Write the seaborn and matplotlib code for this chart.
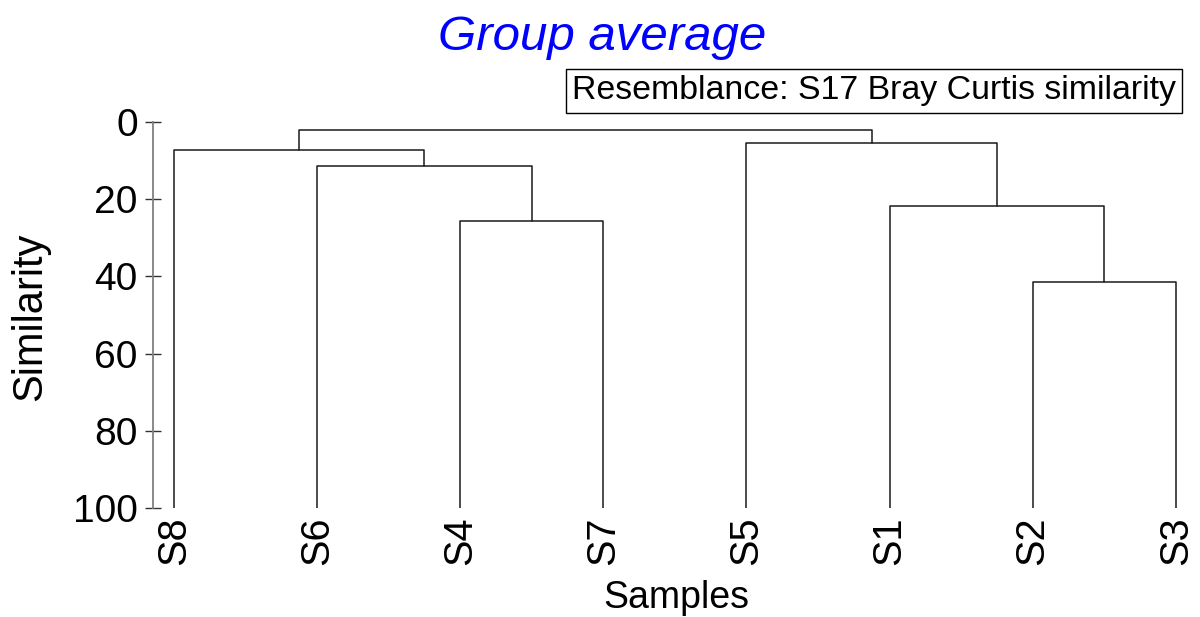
import numpy as np
import pandas as pd
import matplotlib
matplotlib.use("Agg")
import matplotlib.pyplot as plt
import seaborn as sns

# ---- data ----
leaf_labels = ["S8", "S6", "S4", "S7", "S5", "S1", "S2", "S3"]
leaf_level = 100.0
# linkage: clusters 0..7 are leaves, each merge creates cluster 8, 9, ...
merge_a = [2, 6, 1, 5, 0, 4, 12]
merge_b = [3, 7, 8, 9, 10, 11, 13]
merge_level = [25.7, 41.5, 11.4, 21.7, 7.4, 5.6, 2.15]
y_ticks = [0, 20, 40, 60, 80, 100]

title = "Group average"
note = "Resemblance: S17 Bray Curtis similarity"
x_label = "Samples"
y_label = "Similarity"

# ---- build dendrogram segments ----
pos = {i: float(i) for i in range(len(leaf_labels))}
lev = {i: leaf_level for i in range(len(leaf_labels))}
rows = []
for k, (a, b, h) in enumerate(zip(merge_a, merge_b, merge_level)):
    cid = len(leaf_labels) + k
    xs = [pos[a], pos[a], pos[b], pos[b]]
    ys = [lev[a], h, h, lev[b]]
    for j, (xx, yy) in enumerate(zip(xs, ys)):
        rows.append({"link": k, "order": j, "x": xx, "y": yy})
    pos[cid] = (pos[a] + pos[b]) / 2.0
    lev[cid] = h
seg = pd.DataFrame(rows)

sns.set_theme(style="white")
plt.rcParams["font.family"] = ["Liberation Sans", "DejaVu Sans"]

fig = plt.figure(figsize=(12, 6.17), dpi=100)
ax = fig.add_axes([153 / 1200, 1 - 508.3 / 617, (1190 - 153) / 1200, (508.3 - 120.5) / 617])

sns.lineplot(data=seg, x="x", y="y", units="link", estimator=None, sort=False,
             color="#1a1a1a", linewidth=1.1, ax=ax)

ax.set_xlim(-0.147, 7.1)
ax.set_ylim(100, -0.3)
ax.set_yticks(y_ticks)
ax.set_yticklabels([str(t) for t in y_ticks], fontsize=28, color="black")
ax.set_xticks(range(len(leaf_labels)))
ax.set_xticklabels(leaf_labels, rotation=90, fontsize=28.5, color="black")
ax.tick_params(axis="x", length=0, pad=6)
ax.tick_params(axis="y", direction="inout", length=12, width=1.0, color="#333333", pad=5, left=True)

for s in ["top", "right", "bottom"]:
    ax.spines[s].set_visible(False)
ax.spines["left"].set_color("#808080")
ax.spines["left"].set_linewidth(1.3)
ax.spines["left"].set_bounds(0, 100)

ax.set_xlabel("")
ax.set_ylabel("")
fig.text(676 / 1200, 1 - 598 / 617, x_label, ha="center", va="center", fontsize=27, color="black")
fig.text(30 / 1200, 1 - 317 / 617, y_label, ha="center", va="center", rotation=90, fontsize=30, color="black")
fig.text(602 / 1200, 1 - 37 / 617, title, ha="center", va="center", fontsize=35.5,
         style="italic", color="#0000ff")
fig.text(874 / 1200, 1 - 91 / 617, note, ha="center", va="center", fontsize=24.4, color="black",
         bbox=dict(boxstyle="square,pad=0.18", facecolor="white", edgecolor="black", linewidth=1.0))

fig.savefig("out.png", dpi=100, facecolor="white")
